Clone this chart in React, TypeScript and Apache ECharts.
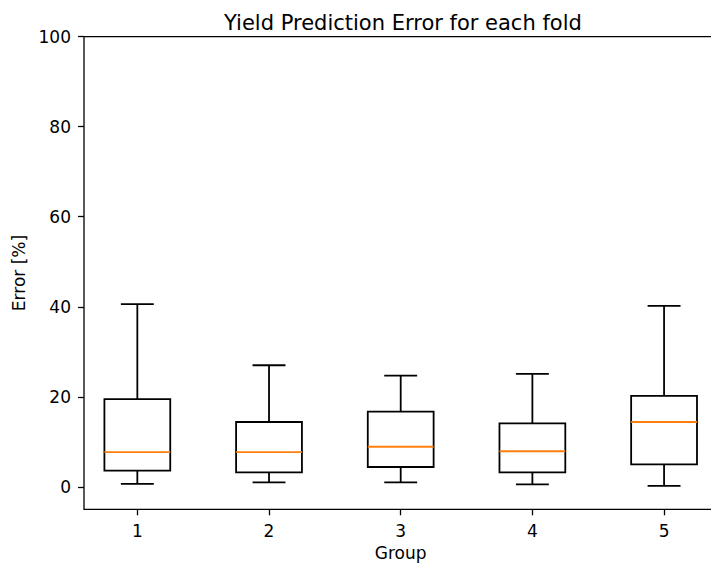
import React, { useEffect, useRef } from "react";
import * as echarts from "echarts";

const groups = [1, 2, 3, 4, 5];
const whiskerLow = [0.67, 0.97, 0.97, 0.53, 0.22];
const q1 = [3.6, 3.2, 4.4, 3.2, 5.0];
const median = [7.7, 7.7, 8.9, 7.9, 14.4];
const q3 = [19.5, 14.4, 16.7, 14.1, 20.2];
const whiskerHigh = [40.6, 27.0, 24.7, 25.1, 40.2];
const yTicks = [0, 20, 40, 60, 80, 100];
const xTicks = [1, 2, 3, 4, 5];

const FONT = "DejaVu Sans";

export default function App() {
  const ref = useRef<HTMLDivElement>(null);
  useEffect(() => {
    if (!ref.current) return;
    const chart = echarts.init(ref.current, undefined, { renderer: "svg" });
    const data = groups.map((g, i) => [g, whiskerLow[i], q1[i], median[i], q3[i], whiskerHigh[i]]);
    const lw = 1.8;
    chart.setOption({
      animation: false,
      backgroundColor: "#fff",
      textStyle: { fontFamily: FONT },
      title: {
        text: "Yield Prediction Error for each fold",
        left: 219,
        top: 7,
        textStyle: { fontFamily: FONT, fontSize: 21, fontWeight: "normal", color: "#000" },
      },
      grid: {
        left: 84,
        right: 2.6,
        top: 36.7,
        bottom: 53.7,
        outerBoundsMode: "none",
        containLabel: false,
        show: true,
        borderColor: "#000",
        borderWidth: 1.3,
        backgroundColor: "transparent",
      },
      xAxis: {
        type: "value",
        min: 0.595,
        max: 5.405,
        name: "Group",
        nameLocation: "middle",
        nameGap: 35.5,
        nameTextStyle: { fontFamily: FONT, fontSize: 17, color: "#000", lineHeight: 17 },
        axisLine: { show: false, onZero: false },
        splitLine: { show: false },
        axisTick: { show: true, length: 6, lineStyle: { color: "#000", width: 1.3 }, customValues: xTicks },
        axisLabel: { fontFamily: FONT, fontSize: 17, color: "#000", margin: 13, customValues: xTicks },
      },
      yAxis: {
        type: "value",
        min: -5,
        max: 100,
        name: "Error [%]",
        nameLocation: "middle",
        nameGap: 56,
        nameTextStyle: { fontFamily: FONT, fontSize: 17, color: "#000" },
        axisLine: { show: false, onZero: false },
        splitLine: { show: false },
        axisTick: { show: true, length: 6, lineStyle: { color: "#000", width: 1.3 }, customValues: yTicks },
        axisLabel: { fontFamily: FONT, fontSize: 17, color: "#000", margin: 13, customValues: yTicks },
      },
      series: [
        {
          type: "custom",
          data,
          clip: false,
          renderItem: (params: any, api: any) => {
            const x = api.value(0);
            const lo = api.value(1);
            const a = api.value(2);
            const m = api.value(3);
            const b = api.value(4);
            const hi = api.value(5);
            const bl = api.coord([x - 0.25, a]);
            const tr = api.coord([x + 0.25, b]);
            const cx = api.coord([x, m])[0];
            const capL = api.coord([x - 0.125, lo])[0];
            const capR = api.coord([x + 0.125, lo])[0];
            const yLo = api.coord([x, lo])[1];
            const yHi = api.coord([x, hi])[1];
            const yM = api.coord([x, m])[1];
            const black = { stroke: "#000", lineWidth: lw, fill: null };
            return {
              type: "group",
              children: [
                { type: "line", shape: { x1: cx, y1: bl[1], x2: cx, y2: yLo }, style: black },
                { type: "line", shape: { x1: cx, y1: tr[1], x2: cx, y2: yHi }, style: black },
                { type: "line", shape: { x1: capL, y1: yLo, x2: capR, y2: yLo }, style: black },
                { type: "line", shape: { x1: capL, y1: yHi, x2: capR, y2: yHi }, style: black },
                {
                  type: "rect",
                  shape: { x: bl[0], y: tr[1], width: tr[0] - bl[0], height: bl[1] - tr[1] },
                  style: { stroke: "#000", lineWidth: lw, fill: "none" },
                },
                {
                  type: "line",
                  shape: { x1: bl[0], y1: yM, x2: tr[0], y2: yM },
                  style: { stroke: "#ff7f0e", lineWidth: lw },
                },
              ],
            };
          },
        },
      ],
    });
    return () => chart.dispose();
  }, []);
  return (
    <div style={{ position: "fixed", left: 0, top: 0, width: 711, height: 563, overflow: "hidden", background: "#fff" }}>
      <div ref={ref} style={{ width: 720, height: 563 }} />
    </div>
  );
}
